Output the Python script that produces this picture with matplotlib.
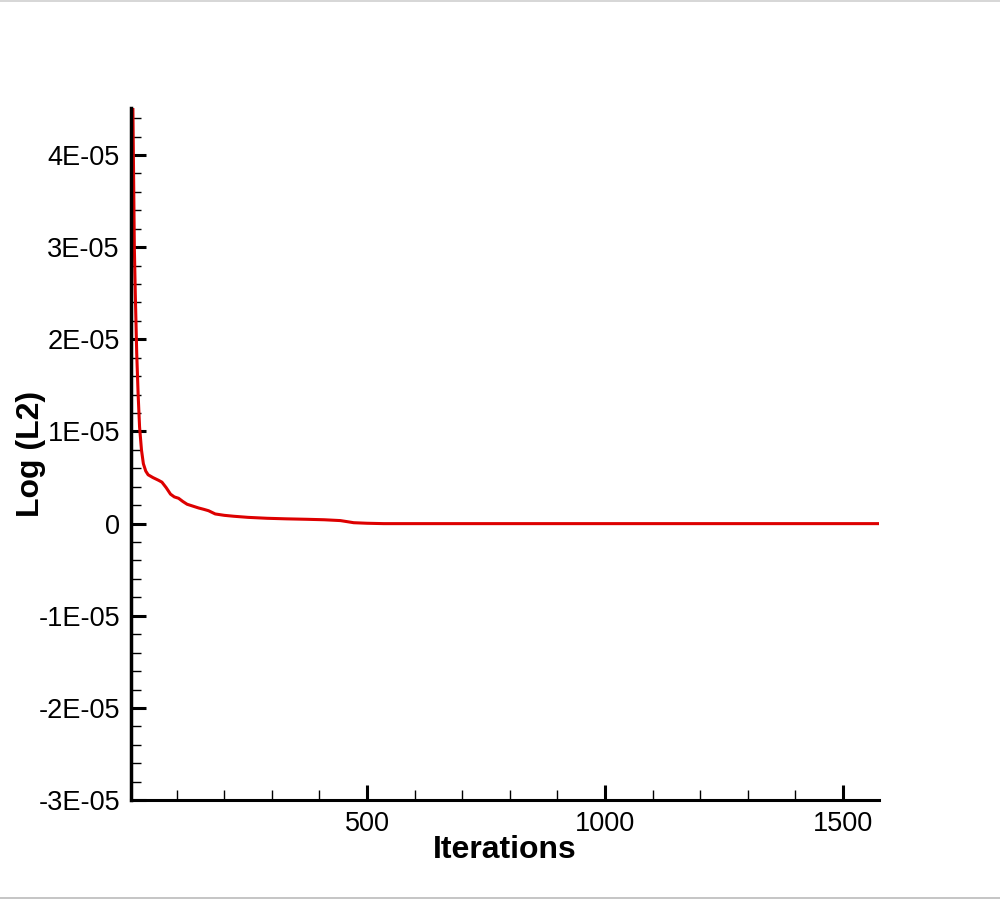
import matplotlib
matplotlib.use("Agg")
import matplotlib.pyplot as plt
from matplotlib.ticker import MultipleLocator, FuncFormatter
from matplotlib.lines import Line2D

plt.rcParams['font.family'] = ['Liberation Sans', 'DejaVu Sans']

# residual history (values in units of 1E-05)
iterations = [5, 8, 11, 13, 16, 19, 22, 26, 30, 35, 40, 50, 62, 69, 78, 87,
              95, 104, 113, 122, 134, 146, 157, 167, 181, 200, 220, 250, 290,
              330, 374, 410, 444, 460, 472, 500, 535, 600, 1576]
residual_e5 = [4.7, 4.5, 3.0, 2.5, 1.85, 1.4, 1.05, 0.8, 0.65, 0.57, 0.53, 0.5,
               0.47, 0.45, 0.39, 0.32, 0.29, 0.275, 0.24, 0.21, 0.19, 0.17,
               0.155, 0.14, 0.105, 0.09, 0.08, 0.068, 0.058, 0.052, 0.047,
               0.042, 0.033, 0.02, 0.01, 0.004, 0.0, 0.0, 0.0]
residual = [v * 1e-5 for v in residual_e5]

fig = plt.figure(figsize=(10, 9), dpi=100)
ax = fig.add_axes([0.131, 0.111, 0.748, 0.769])

ax.plot(iterations, residual, color="#dd0000", lw=2.2, clip_on=True)

ax.set_xlim(4, 1576)
ax.set_ylim(-3e-5, 4.51e-5)

ax.xaxis.set_major_locator(MultipleLocator(500))
ax.xaxis.set_minor_locator(MultipleLocator(100))
ax.yaxis.set_major_locator(MultipleLocator(1e-5))
ax.yaxis.set_minor_locator(MultipleLocator(2e-6))


def fmt(v, pos):
    if abs(v) < 1e-12:
        return "0"
    return f"{v:.0E}"


ax.yaxis.set_major_formatter(FuncFormatter(fmt))
ax.xaxis.set_major_formatter(FuncFormatter(lambda v, p: f"{v:.0f}"))

for s in ("top", "right"):
    ax.spines[s].set_visible(False)
ax.spines["left"].set_linewidth(2.5)
ax.spines["bottom"].set_linewidth(2.2)

ax.tick_params(which="major", direction="in", length=11, width=2.2,
               labelsize=19.5, pad=8)
ax.tick_params(which="minor", direction="in", length=7, width=1.0)

ax.set_xlabel("Iterations", fontsize=23, fontweight="bold")
ax.set_ylabel("Log (L2)", fontsize=23, fontweight="bold")
ax.xaxis.set_label_coords(0.5, -0.05)
ax.yaxis.set_label_coords(-0.113, 0.5)

# thin frame lines at the top and bottom edges
fig.add_artist(Line2D([0, 1], [0.999, 0.999], color="#d0d0d0", lw=1.2,
                      transform=fig.transFigure))
fig.add_artist(Line2D([0, 1], [0.002, 0.002], color="#bbbbbb", lw=1.2,
                      transform=fig.transFigure))

fig.savefig("out.png", dpi=100)
plt.close(fig)
